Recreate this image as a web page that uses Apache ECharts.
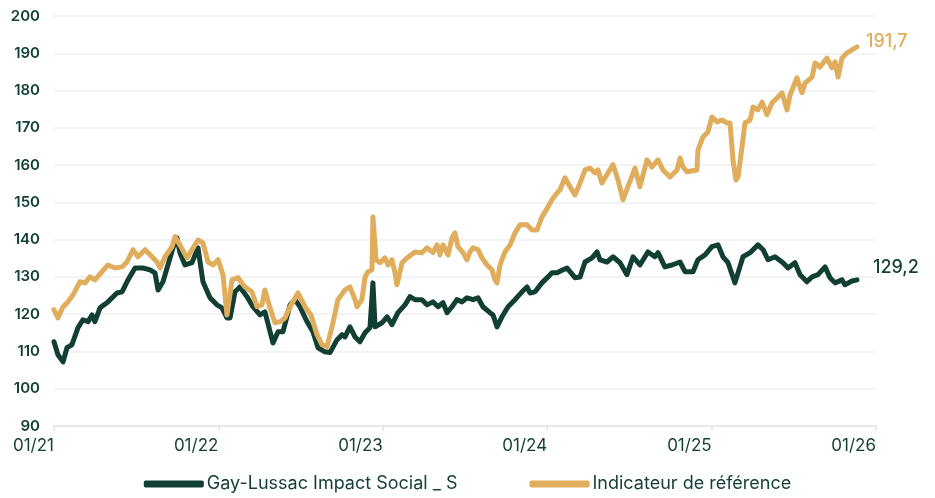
<!DOCTYPE html>
<html>
<head>
<meta charset="utf-8">
<script src="https://cdn.jsdelivr.net/npm/echarts@6/dist/echarts.min.js"></script>
<style>html,body{margin:0;padding:0;background:#fff}#c{width:935px;height:498px}</style>
</head>
<body>
<div id="c"></div>
<script>
var seriesNames = ['Gay-Lussac Impact Social _ S', 'Indicateur de référence'];
var xTicks = [2021, 2022, 2023, 2024, 2025, 2026];

var fundDates = [2021.000,2021.024,2021.055,2021.079,2021.109,2021.146,2021.176,2021.207,2021.231,2021.249,2021.280,2021.328,2021.383,2021.414,2021.450,2021.493,2021.541,2021.584,2021.614,2021.633,2021.663,2021.693,2021.724,2021.748,2021.766,2021.797,2021.839,2021.876,2021.906,2021.949,2021.991,2022.022,2022.052,2022.071,2022.101,2022.131,2022.174,2022.210,2022.253,2022.283,2022.332,2022.363,2022.393,2022.436,2022.466,2022.496,2022.539,2022.575,2022.606,2022.648,2022.679,2022.721,2022.752,2022.770,2022.800,2022.831,2022.861,2022.892,2022.922,2022.934,2022.940,2022.953,2022.995,2023.026,2023.056,2023.092,2023.135,2023.165,2023.196,2023.238,2023.269,2023.305,2023.336,2023.366,2023.391,2023.421,2023.451,2023.482,2023.512,2023.549,2023.579,2023.609,2023.652,2023.670,2023.695,2023.725,2023.762,2023.804,2023.847,2023.877,2023.895,2023.926,2023.968,2024.005,2024.029,2024.060,2024.096,2024.120,2024.169,2024.200,2024.230,2024.273,2024.303,2024.321,2024.364,2024.400,2024.443,2024.485,2024.522,2024.564,2024.613,2024.655,2024.674,2024.716,2024.759,2024.808,2024.838,2024.887,2024.917,2024.960,2025.002,2025.039,2025.069,2025.100,2025.142,2025.191,2025.234,2025.282,2025.313,2025.343,2025.386,2025.434,2025.465,2025.507,2025.538,2025.580,2025.611,2025.647,2025.690,2025.720,2025.751,2025.793,2025.811,2025.854,2025.884];
var fundValues = [112.6,109.1,107.2,111.0,111.8,116.4,118.5,118.0,119.8,118.0,121.7,123.3,125.7,126.0,129.2,132.4,132.4,131.9,131.1,126.5,128.7,133.2,137.8,140.5,136.5,133.2,133.8,137.8,128.7,124.4,122.5,121.7,119.0,119.0,126.0,127.3,124.7,122.0,119.8,120.6,112.3,115.3,115.3,122.5,123.9,122.0,118.0,115.3,111.0,109.9,109.7,113.1,114.5,113.9,116.6,113.9,112.6,115.0,116.4,116.6,128.4,116.6,117.7,119.3,117.2,120.4,122.5,124.7,123.9,123.9,122.5,123.3,122.0,123.1,120.4,122.0,123.9,123.3,124.4,123.9,124.4,122.0,120.4,119.8,116.6,119.3,122.0,123.9,126.0,127.3,125.7,126.0,128.4,130.0,131.1,131.1,131.9,132.4,129.8,130.0,134.0,135.1,136.7,134.6,134.0,135.4,133.8,130.6,135.4,133.2,136.7,135.4,136.5,132.7,133.2,134.0,131.4,131.4,134.6,135.9,138.1,138.6,135.4,133.8,128.4,135.4,136.5,138.6,137.3,134.6,135.4,133.8,132.4,133.8,130.6,128.7,130.0,130.6,132.7,129.8,128.4,129.2,127.9,128.9,129.2];

var benchDates = [2021.000,2021.024,2021.055,2021.085,2021.116,2021.158,2021.189,2021.219,2021.249,2021.292,2021.328,2021.371,2021.414,2021.444,2021.481,2021.511,2021.554,2021.596,2021.627,2021.645,2021.675,2021.718,2021.736,2021.766,2021.809,2021.839,2021.876,2021.906,2021.937,2021.967,2021.998,2022.028,2022.052,2022.083,2022.119,2022.162,2022.204,2022.235,2022.265,2022.283,2022.314,2022.344,2022.375,2022.405,2022.436,2022.484,2022.527,2022.563,2022.600,2022.630,2022.661,2022.697,2022.727,2022.770,2022.800,2022.831,2022.843,2022.873,2022.892,2022.910,2022.934,2022.940,2022.959,2022.983,2023.013,2023.032,2023.056,2023.074,2023.086,2023.117,2023.147,2023.196,2023.238,2023.269,2023.305,2023.330,2023.348,2023.366,2023.397,2023.421,2023.439,2023.457,2023.488,2023.512,2023.530,2023.549,2023.579,2023.603,2023.634,2023.664,2023.682,2023.695,2023.713,2023.743,2023.774,2023.804,2023.835,2023.877,2023.908,2023.938,2023.968,2024.005,2024.029,2024.060,2024.078,2024.108,2024.139,2024.169,2024.200,2024.230,2024.260,2024.291,2024.309,2024.333,2024.370,2024.400,2024.431,2024.461,2024.491,2024.534,2024.564,2024.607,2024.637,2024.674,2024.704,2024.747,2024.790,2024.808,2024.826,2024.850,2024.911,2024.917,2024.948,2024.978,2025.002,2025.033,2025.063,2025.094,2025.112,2025.130,2025.148,2025.161,2025.185,2025.203,2025.234,2025.252,2025.282,2025.307,2025.337,2025.367,2025.398,2025.428,2025.459,2025.477,2025.519,2025.550,2025.568,2025.611,2025.629,2025.659,2025.702,2025.732,2025.751,2025.769,2025.793,2025.823,2025.854,2025.884];
var benchValues = [121.2,119.0,122.0,123.3,125.2,128.7,128.4,130.0,129.2,131.4,133.2,132.4,132.7,134.0,137.3,135.4,137.3,135.4,134.0,132.4,135.4,138.1,140.8,138.6,135.1,137.3,139.9,139.1,134.0,133.2,134.6,130.6,119.8,129.2,129.8,127.3,126.0,122.0,122.5,126.5,121.7,117.7,118.0,119.0,122.0,125.7,122.0,119.8,114.5,111.8,111.3,117.7,123.9,126.5,127.3,123.9,122.0,123.9,130.0,131.4,131.9,146.1,134.6,133.8,135.1,133.2,134.6,131.1,127.9,133.8,135.1,136.7,136.5,137.8,136.5,138.6,135.9,138.6,135.9,140.5,141.8,138.1,136.5,134.6,136.7,137.8,137.3,135.1,133.2,131.9,129.2,128.4,133.2,136.7,138.6,141.8,144.0,144.0,142.6,142.6,146.1,148.8,150.7,152.5,153.4,156.6,154.2,152.0,155.2,158.7,159.2,157.9,158.7,155.2,157.9,160.1,156.0,150.7,154.2,159.2,154.2,161.4,159.5,161.4,158.7,156.8,158.7,161.9,159.5,158.2,158.7,164.1,167.6,168.9,172.9,171.6,172.1,171.3,171.3,161.4,156.0,156.8,164.9,171.3,172.1,175.6,174.8,176.9,173.5,176.7,178.0,179.4,174.8,178.8,183.4,179.4,182.0,183.6,187.4,186.3,188.7,186.1,187.7,183.6,188.7,190.1,190.9,191.7];

function zip(a, b) { return a.map(function (d, i) { return [d, b[i]]; }); }

var DARK = '#123f33', GOLD = '#e0ad5c';
var chart = echarts.init(document.getElementById('c'), null, { renderer: 'canvas' });
chart.setOption({
  animation: false,
  backgroundColor: '#ffffff',
  textStyle: { fontFamily: 'Inter' },
  grid: { left: 54, right: 59, top: 16, bottom: 72, containLabel: false },
  xAxis: {
    type: 'value', min: xTicks[0], max: xTicks[xTicks.length - 1], interval: 1,
    axisLine: { show: true, lineStyle: { color: '#e3e3e3', width: 1.5 } },
    axisTick: { show: true, length: 5, lineStyle: { color: '#e3e3e3', width: 1.5 } },
    splitLine: { show: false },
    axisLabel: {
      color: DARK, fontSize: 17, fontFamily: 'Inter', align: 'right', margin: 11,
      formatter: function (v) { return '01/' + String(v - 2000); }
    }
  },
  yAxis: {
    type: 'value', min: 90, max: 200, interval: 10,
    axisLine: { show: false }, axisTick: { show: false },
    splitLine: { show: true, lineStyle: { color: '#efefef', width: 1.5 } },
    axisLabel: { color: DARK, fontSize: 15, fontWeight: 600, fontFamily: 'Inter', margin: 14 }
  },
  legend: {
    bottom: 0, left: 'center', itemGap: 72, itemWidth: 60, itemHeight: 7,
    icon: 'roundRect',
    textStyle: { color: DARK, fontSize: 18, fontFamily: 'Inter', padding: [0, 0, 0, -2] },
    data: [
      { name: seriesNames[0], itemStyle: { color: DARK } },
      { name: seriesNames[1], itemStyle: { color: GOLD } }
    ]
  },
  series: [
    {
      name: seriesNames[0], type: 'line', data: zip(fundDates, fundValues),
      showSymbol: false, symbol: 'none', color: DARK,
      lineStyle: { color: DARK, width: 5, cap: 'round', join: 'round' },
      endLabel: {
        show: true, color: DARK, fontSize: 18, fontWeight: 500, fontFamily: 'Inter',
        offset: [10, -12], distance: 6,
        formatter: function (p) { return p.value[1].toFixed(1).replace('.', ','); }
      }
    },
    {
      name: seriesNames[1], type: 'line', data: zip(benchDates, benchValues),
      showSymbol: false, symbol: 'none', color: GOLD,
      lineStyle: { color: GOLD, width: 5, cap: 'round', join: 'round' },
      endLabel: {
        show: true, color: GOLD, fontSize: 18, fontWeight: 500, fontFamily: 'Inter',
        offset: [3, -5], distance: 6,
        formatter: function (p) { return p.value[1].toFixed(1).replace('.', ','); }
      }
    }
  ]
});
</script>
</body>
</html>
